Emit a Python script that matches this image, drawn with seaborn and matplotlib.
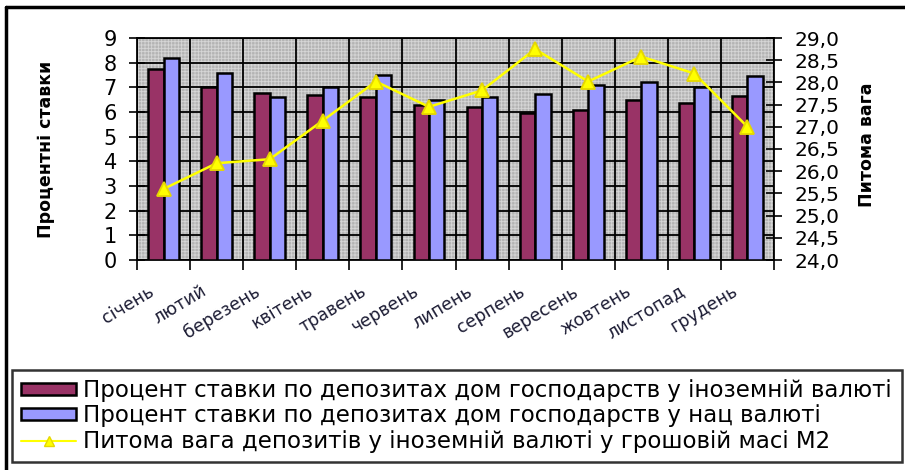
import matplotlib
matplotlib.use("Agg")
import matplotlib.pyplot as plt
from matplotlib.patches import Patch, Rectangle
from matplotlib.lines import Line2D
from matplotlib.ticker import MultipleLocator, FixedLocator, FuncFormatter
from matplotlib.transforms import ScaledTranslation
import numpy as np
import pandas as pd
import seaborn as sns

# Monthly data
months = ["січень", "лютий", "березень", "квітень", "травень", "червень",
          "липень", "серпень", "вересень", "жовтень", "листопад", "грудень"]
rate_foreign = [7.75, 7.0, 6.78, 6.68, 6.61, 6.27, 6.2, 5.96, 6.08, 6.49, 6.37, 6.63]
rate_national = [8.2, 7.6, 6.61, 7.0, 7.49, 6.48, 6.6, 6.73, 7.08, 7.2, 7.0, 7.44]
share_m2 = [25.6, 26.18, 26.27, 27.14, 28.02, 27.45, 27.82, 28.75, 28.02, 28.58, 28.2, 27.0]

series_names = [
    "Процент ставки по депозитах дом господарств у іноземній валюті",
    "Процент ставки по депозитах дом господарств у нац валюті",
    "Питома вага депозитів у іноземній валюті у грошовій масі М2",
]
left_label = "Процентні ставки"
right_label = "Питома вага"

MAROON = "#993366"
LILAC = "#9999ff"
YELLOW = "#ffff00"

sns.set_theme(style="white")
plt.rcParams["font.family"] = ["DejaVu Sans"]
plt.rcParams["text.color"] = "black"
plt.rcParams["axes.labelcolor"] = "black"
plt.rcParams["xtick.color"] = "black"
plt.rcParams["ytick.color"] = "black"
plt.rcParams["hatch.linewidth"] = 0.6

df = pd.DataFrame({
    "month": months * 2,
    "rate": rate_foreign + rate_national,
    "series": [series_names[0]] * len(months) + [series_names[1]] * len(months),
})

W, H = 905, 470
fig = plt.figure(figsize=(W / 100, H / 100), dpi=100)
fig.patch.set_facecolor("white")

x0, x1, y0, y1 = 137, 774, 38, 260
ax = fig.add_axes([x0 / W, 1 - y1 / H, (x1 - x0) / W, (y1 - y0) / H])
ax.set_facecolor("#b4b4b4")
# fine mesh texture of the plot area
ax.add_patch(Rectangle((0, 0), 1, 1, transform=ax.transAxes, facecolor="none",
                       edgecolor="#d6d6d6", hatch="+++++", linewidth=0, zorder=0))

sns.barplot(data=df, x="month", y="rate", hue="series", palette=[MAROON, LILAC],
            width=0.58, saturation=1, edgecolor="black", linewidth=1.8,
            ax=ax, legend=False, zorder=3)

# yellow share line on the secondary axis
ax2 = ax.twinx()
sns.pointplot(x=months, y=share_m2, ax=ax2, color=YELLOW, markers="^",
              markersize=10, linewidth=1.8, zorder=5)
for line in ax2.lines:
    line.set_markeredgecolor("#e6d800")

ax.set_ylim(0, 9)
ax.set_xlim(-0.5, len(months) - 0.5)
ax.yaxis.set_major_locator(MultipleLocator(1))
ax.set_xlabel("")
ax.set_ylabel(left_label, fontsize=12.5, fontweight="bold", color="black")
ax.yaxis.set_label_coords(-0.129, 0.5)

# grid: horizontal at integers, vertical at category borders
for v in range(0, 10):
    ax.axhline(v, color="black", lw=1.3, zorder=1)
for b in np.arange(-0.5, len(months), 1.0):
    ax.axvline(b, color="black", lw=1.3, zorder=1)

ax.set_xticks(range(len(months)))
ax.set_xticklabels(months, rotation=31, ha="right", va="top",
                   rotation_mode="anchor", fontsize=12.5, color="#1c1c34")
ax.tick_params(axis="x", which="major", length=0, pad=16)
ax.xaxis.set_minor_locator(FixedLocator(np.arange(-0.5, len(months), 1.0)))
ax.tick_params(axis="x", which="minor", length=7, width=1.2, color="black",
               direction="out", bottom=True)
ax.tick_params(axis="y", which="major", length=11, width=1.2, color="black",
               direction="inout", labelsize=15, left=True, pad=9)
for s in ax.spines.values():
    s.set_color("black")
    s.set_linewidth(1.3)

ax2.set_ylim(24, 29)
ax2.set_xlim(-0.5, len(months) - 0.5)
ax2.set_xlabel("")
ax2.yaxis.set_major_locator(MultipleLocator(0.5))
ax2.yaxis.set_major_formatter(FuncFormatter(lambda v, p: f"{v:.1f}".replace(".", ",")))
ax2.tick_params(axis="y", which="major", length=11, width=1.2, color="black",
                direction="inout", labelsize=14.5, right=True, pad=9)
ax2.set_ylabel(right_label, fontsize=12.5, fontweight="bold", rotation=90,
               color="black")
ax2.yaxis.set_label_coords(1.132, 0.52)
ax2.grid(False)
for s in ax2.spines.values():
    s.set_visible(False)

# nudge month labels left so their ends sit just before each category centre
shift = ScaledTranslation(-16 / 100, 0, fig.dpi_scale_trans)
for lbl in ax.xaxis.get_majorticklabels():
    lbl.set_transform(lbl.get_transform() + shift)

# legend
handles = [
    Patch(facecolor=MAROON, edgecolor="black", linewidth=1.8),
    Patch(facecolor=LILAC, edgecolor="black", linewidth=1.8),
    Line2D([], [], color=YELLOW, lw=1.5, marker="^", markersize=7,
           markerfacecolor=YELLOW, markeredgecolor="#e6d800"),
]
leg = fig.legend(handles, series_names, loc="upper left",
                 bbox_to_anchor=(12 / W, 1 - 370 / H, (902 - 12) / W, 0),
                 mode="expand", borderaxespad=0, fontsize=16.5, frameon=True,
                 fancybox=False, edgecolor="black", handlelength=2.4,
                 handleheight=0.45, handletextpad=0.3, labelspacing=0.1,
                 borderpad=0.4)
leg.get_frame().set_linewidth(1.8)

# outer frame (left and top edges)
fig.add_artist(Line2D([6 / W, 6 / W], [0, 1 - 7 / H], color="black", lw=2.5,
                      transform=fig.transFigure))
fig.add_artist(Line2D([6 / W, 1], [1 - 7 / H, 1 - 7 / H], color="black", lw=2.5,
                      transform=fig.transFigure))

fig.savefig("out.png", dpi=100)
